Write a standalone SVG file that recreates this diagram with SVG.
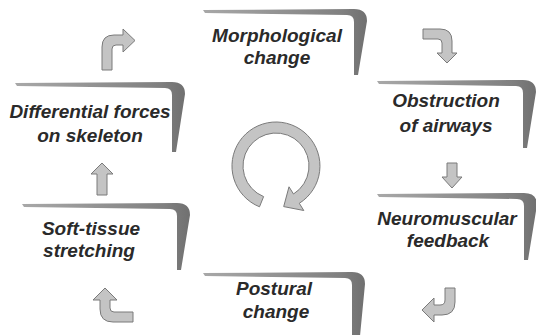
<svg xmlns="http://www.w3.org/2000/svg" width="536" height="335" viewBox="0 0 536 335">
<defs>
<linearGradient id="barg" x1="0" y1="0" x2="1" y2="0">
<stop offset="0" stop-color="#a8a8a8"/>
<stop offset="0.85" stop-color="#808080"/>
<stop offset="1" stop-color="#707070"/>
</linearGradient>
<style>
.bar{fill:url(#barg);stroke:none}
.lbl{font-family:"Liberation Sans",Arial,sans-serif;font-size:19px;font-weight:bold;font-style:italic;fill:#2a2a2a;text-anchor:middle}
.arr{fill:#c4c4c4;stroke:#7a7a7a;stroke-width:1;stroke-linejoin:miter}
</style>
</defs>
<rect width="536" height="335" fill="#ffffff"/>
<g id="node-morphological">
<path class="bar" d="M203,10 L354,9 Q367,9 367,21 L358,75 L354,75 L354,22 Q354,15 347,15 L205,13 Z"/>
<text class="lbl" x="277" y="42">Morphological</text>
<text class="lbl" x="277" y="64">change</text>
</g>
<g id="node-obstruction">
<path class="bar" d="M377,81 L523,80 Q536,80 536,92 L527,148 L523,148 L523,93 Q523,86 516,86 L379,84 Z"/>
<text class="lbl" x="446" y="107">Obstruction</text>
<text class="lbl" x="446" y="132">of airways</text>
</g>
<g id="node-neuromuscular">
<path class="bar" d="M377,194 L524,193 Q537,193 537,205 L528,260 L524,260 L524,206 Q524,199 517,199 L379,197 Z"/>
<text class="lbl" x="447" y="225">Neuromuscular</text>
<text class="lbl" x="448" y="247">feedback</text>
</g>
<g id="node-postural">
<path class="bar" d="M203,273 L352,272 Q365,272 365,284 L360,336 L352,336 L352,285 Q352,278 345,278 L205,276 Z"/>
<text class="lbl" x="274" y="295">Postural</text>
<text class="lbl" x="276" y="318">change</text>
</g>
<g id="node-softtissue">
<path class="bar" d="M22,204 L177,203 Q190,203 190,215 L181,270 L177,270 L177,216 Q177,209 170,209 L24,207 Z"/>
<text class="lbl" x="91" y="235">Soft-tissue</text>
<text class="lbl" x="89" y="257">stretching</text>
</g>
<g id="node-differential">
<path class="bar" d="M15,83 L172,82 Q185,82 185,94 L176,152 L172,152 L172,95 Q172,88 165,88 L17,86 Z"/>
<text class="lbl" x="90" y="118">Differential forces</text>
<text class="lbl" x="90" y="142">on skeleton</text>
</g>
<g id="connectors">
<path class="arr" d="M102,70 L102,47 Q102,35 114,35 L123,35 L123,29 L135,40.5 L123,52 L123,45 L116,45 Q112,45 112,49 L112,70 Z"/>
<path class="arr" d="M423,29 L440,29 Q452,29 452,41 L452,53 L457,53 L447,63 L437,53 L442,53 L442,43 Q442,39 438,39 L423,39 Z"/>
<path class="arr" d="M447,163 L457,163 L457,177 L462,177 L452,188 L442,177 L447,177 Z"/>
<path class="arr" d="M445,288 L455,288 L455,302 Q455,315 442,315 L434,315 L434,322 L422,310 L434,298 L434,305 L440,305 Q445,305 445,300 Z"/>
<path class="arr" d="M133,312 L114,312 Q110,312 110,308 L110,300 L117,300 L105,288 L93,300 L100,300 L100,309 Q100,322 113,322 L133,322 Z"/>
<path class="arr" d="M97,195 L107,195 L107,174 L113,174 L102,163 L91,174 L97,174 Z"/>
</g>
<g id="cycle">
<path class="arr" d="M259.5,206.8 A44,44 0 1 1 299.3,203.3 L303.8,210.5 L283.7,206.6 L289,186.8 L293.5,194 A33,33 0 1 0 263.6,196.6 Z"/>
</g>
</svg>
